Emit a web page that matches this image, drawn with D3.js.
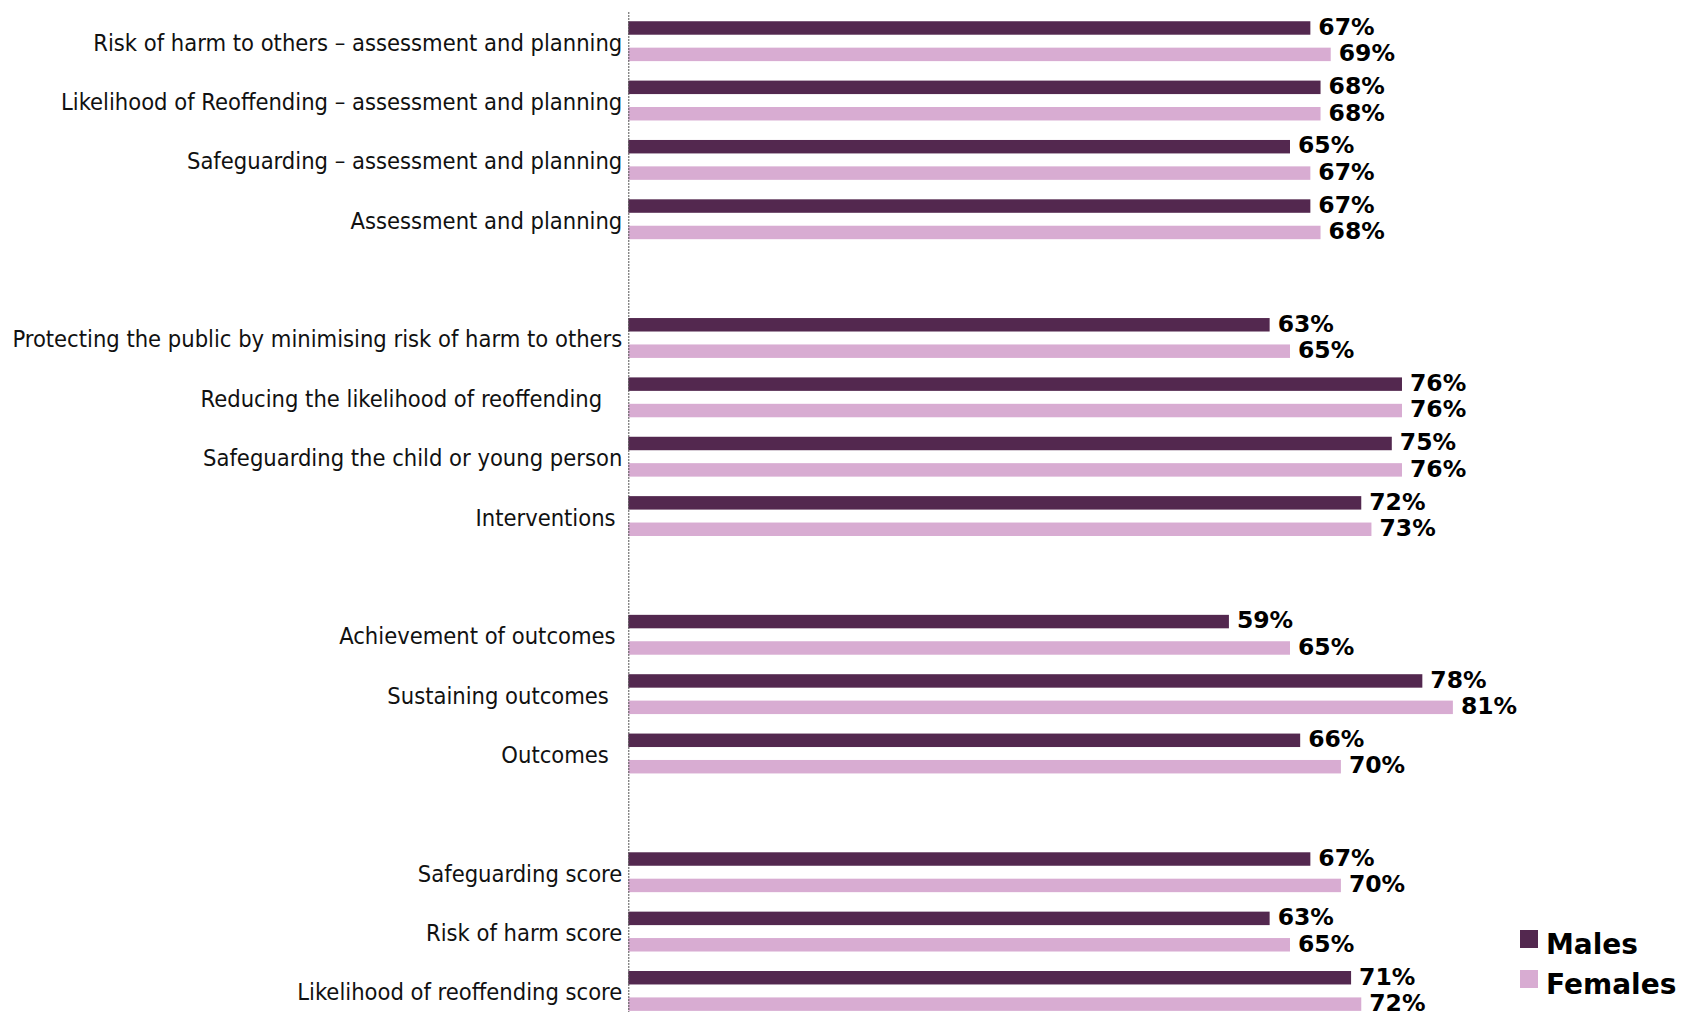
<!DOCTYPE html>
<html>
<head>
<meta charset="utf-8">
<script src="https://cdn.jsdelivr.net/npm/d3@7"></script>
<style>
  html, body { margin: 0; padding: 0; background: #fff; }
  svg { display: block; }
  .cat text { font-family: "DejaVu Sans Condensed", "DejaVu Sans", sans-serif; font-stretch: condensed; font-size: 23.5px; fill: #111; white-space: pre; }
  .val { font-family: "DejaVu Sans", sans-serif; font-weight: bold; font-size: 23.5px; fill: #000; }
  .legend text { font-family: "DejaVu Sans", sans-serif; font-weight: bold; font-size: 28px; fill: #000; }
</style>
</head>
<body>
<svg id="chart" width="1681" height="1012"></svg>
<script>
// Inspection measures, grouped into blocks separated by a blank row
const categories = [
  "Risk of harm to others – assessment and planning",
  "Likelihood of Reoffending – assessment and planning",
  "Safeguarding – assessment and planning",
  "Assessment and planning",
  "Protecting the public by minimising risk of harm to others",
  "Reducing the likelihood of reoffending   ",
  "Safeguarding the child or young person",
  "Interventions ",
  "Achievement of outcomes ",
  "Sustaining outcomes  ",
  "Outcomes  ",
  "Safeguarding score",
  "Risk of harm score",
  "Likelihood of reoffending score"
];
const groupSizes = [4, 4, 3, 3];
const series = ["Males", "Females"];
const males   = [67, 68, 65, 67, 63, 76, 75, 72, 59, 78, 66, 67, 63, 71];
const females = [69, 68, 67, 68, 65, 76, 76, 73, 65, 81, 70, 70, 65, 72];
const colors = ["#53284f", "#d8acd2"];

const svg = d3.select("#chart");

// Row slots: categories plus a spacer between each block
const slots = [];
let idx = 0;
groupSizes.forEach((n, g) => {
  if (g > 0) slots.push("__gap" + g);
  for (let i = 0; i < n; i++) slots.push(categories[idx++]);
});

const rowStep = 59.36;
const plotTop = 11.5;
const y = d3.scaleBand()
  .domain(slots)
  .range([plotTop, plotTop + rowStep * slots.length])
  .paddingInner(0)
  .paddingOuter(0);

const ySub = d3.scaleBand()
  .domain(series)
  .range([0, y.bandwidth()])
  .paddingInner(0.49)
  .paddingOuter(0.369);

const x = d3.scaleLinear().domain([0, 100]).range([628.3, 1646.3]);

const rows = categories.map((c, i) => ({ cat: c, values: [males[i], females[i]] }));

// Bars
const rowG = svg.append("g").selectAll("g")
  .data(rows)
  .join("g")
  .attr("transform", d => `translate(0,${y(d.cat)})`);

rowG.selectAll("rect")
  .data(d => d.values.map((v, j) => ({ key: series[j], v, j })))
  .join("rect")
  .attr("x", x(0))
  .attr("y", d => ySub(d.key))
  .attr("width", d => x(d.v) - x(0))
  .attr("height", ySub.bandwidth())
  .attr("fill", d => colors[d.j]);

// Value labels to the right of each bar
rowG.selectAll("text")
  .data(d => d.values.map((v, j) => ({ key: series[j], v, j })))
  .join("text")
  .attr("class", "val")
  .attr("x", d => x(d.v) + 8)
  .attr("y", d => ySub(d.key) + ySub.bandwidth() / 2 + 6.8)
  .text(d => d.v + "%");

// Category axis with dashed baseline
const axis = d3.axisLeft(y)
  .tickValues(categories)
  .tickSize(0)
  .tickSizeOuter(0)
  .tickPadding(6);

const axG = svg.append("g")
  .attr("class", "cat")
  .attr("transform", `translate(${x(0)},0)`)
  .call(axis);

axG.select(".domain")
  .attr("stroke", "#555")
  .attr("stroke-width", 1)
  .attr("stroke-dasharray", "2,1");
axG.selectAll(".tick text")
  .attr("dy", null)
  .attr("y", 9.5)
  .attr("font-family", null)
  .attr("font-size", null)
  .attr("fill", null);
axG.attr("font-family", null).attr("font-size", null);

// Legend
const legend = svg.append("g").attr("class", "legend")
  .selectAll("g")
  .data(series)
  .join("g")
  .attr("transform", (d, i) => `translate(1520,${930 + i * 40})`);

legend.append("rect")
  .attr("width", 18)
  .attr("height", 18)
  .attr("fill", (d, i) => colors[i]);

legend.append("text")
  .attr("x", 26)
  .attr("y", 24)
  .text(d => d);
</script>
</body>
</html>
